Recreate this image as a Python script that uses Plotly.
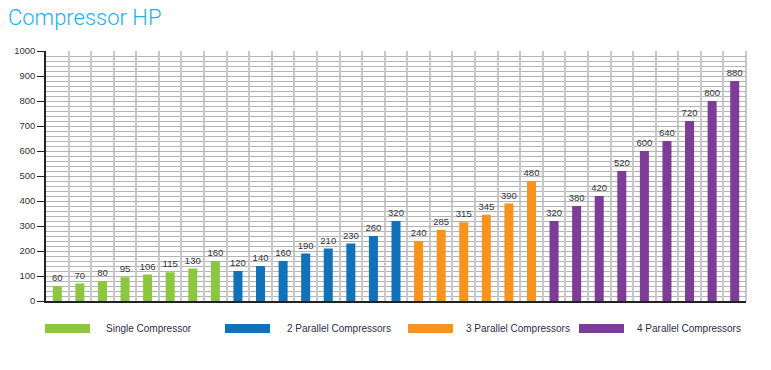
import plotly.graph_objects as go

# ---- data ----
series_names = ["Single Compressor", "2 Parallel Compressors",
                "3 Parallel Compressors", "4 Parallel Compressors"]
single_hp = [60, 70, 80, 95, 106, 115, 130, 160]
parallel2_hp = [120, 140, 160, 190, 210, 230, 260, 320]
parallel3_hp = [240, 285, 315, 345, 390, 480]
parallel4_hp = [320, 380, 420, 520, 600, 640, 720, 800, 880]
series_values = [single_hp, parallel2_hp, parallel3_hp, parallel4_hp]
y_tick_values = [0, 100, 200, 300, 400, 500, 600, 700, 800, 900, 1000]
y_tick_labels = [str(v) for v in y_tick_values]

colors = ["#8dc63f", "#1172ba", "#f7941d", "#7d3c96"]

W, H = 771, 370
L, T = 46, 51
PLOT_RIGHT, PLOT_BOTTOM = 746, 301
R, B = W - PLOT_RIGHT, H - PLOT_BOTTOM
PW, PH = W - L - R, H - T - B

fig = go.Figure()
start = 0
for name, vals, col in zip(series_names, series_values, colors):
    xs = list(range(start, start + len(vals)))
    start += len(vals)
    fig.add_trace(go.Bar(
        x=xs, y=vals, name=name, marker_color=col, marker_line_width=0,
        width=0.4, text=[str(v) for v in vals], textposition="outside",
        constraintext="none",
        textfont=dict(size=9.5, color="#333340", family="Liberation Sans"),
        cliponaxis=False, showlegend=False,
    ))
n_total = start

fig.update_layout(
    width=W, height=H, margin=dict(l=L, r=R, t=T, b=B),
    paper_bgcolor="white", plot_bgcolor="white", barmode="overlay",
    font=dict(family="Liberation Sans", color="#333"),
    title=dict(text="Compressor HP", x=8 / W, xanchor="left", xref="container",
               y=1 - 17 / H, yanchor="middle", yref="container",
               font=dict(family="Roboto", size=22, color="#22b1ea", weight=300)),
)
fig.update_xaxes(
    range=[-0.5, n_total - 0.5], tick0=-0.5, dtick=1, showticklabels=False,
    ticks="", showgrid=True, gridcolor="#c8c8c8", gridwidth=2,
    showline=True, linecolor="#222", linewidth=1.5, zeroline=False,
)
fig.update_yaxes(
    range=[0, 1000], tickvals=y_tick_values, ticktext=y_tick_labels,
    ticks="outside", ticklen=7, tickcolor="#222", tickwidth=1,
    tickfont=dict(size=9.5, color="#333"),
    showgrid=True, gridcolor="#b4b4b4", gridwidth=1,
    minor=dict(dtick=20, showgrid=True, gridcolor="#b4b4b4", gridwidth=1, ticks=""),
    showline=True, linecolor="#222", linewidth=1.5, zeroline=False,
)

# right border line of the grid
fig.add_shape(type="line", xref="paper", yref="paper", x0=1, x1=1, y0=0, y1=1,
              line=dict(color="#c8c8c8", width=2), layer="below")


def px_x(p):
    return (p - L) / PW


def px_y(p):
    return (PLOT_BOTTOM - p) / PH


legend_pos = [(45, 104), (225, 285), (408, 464), (579, 635)]
for (sx, tx), name, col in zip(legend_pos, series_names, colors):
    fig.add_shape(type="rect", xref="paper", yref="paper",
                  x0=px_x(sx), x1=px_x(sx + 45), y0=px_y(333), y1=px_y(324),
                  fillcolor=col, line_width=0)
    fig.add_annotation(text=name, xref="paper", yref="paper",
                       x=px_x(tx), y=px_y(328.5), xanchor="left", yanchor="middle",
                       showarrow=False,
                       font=dict(size=10, color="#2e2e48", family="Liberation Sans"))

fig.write_html("out.html", config={"displayModeBar": False},
               post_script="document.body.style.margin='0';")
